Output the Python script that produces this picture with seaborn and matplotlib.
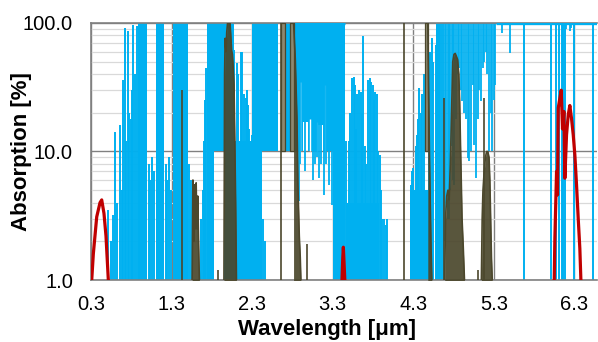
import numpy as np
import pandas as pd
import matplotlib
matplotlib.use("Agg")
import matplotlib.pyplot as plt
import seaborn as sns

sns.set_theme(style="white")
plt.rcParams["font.family"] = ["Liberation Sans", "DejaVu Sans"]
plt.rcParams["text.color"] = "black"
plt.rcParams["axes.labelcolor"] = "black"
plt.rcParams["xtick.color"] = "black"
plt.rcParams["ytick.color"] = "black"

BLUE = "#00b0f0"
BROWN = "#4b472c"
BROWN_L = "#8d8870"
RED = "#c00000"

# ---------------- data ----------------
x_ticks = [0.3, 1.3, 2.3, 3.3, 4.3, 5.3, 6.3]
x_tick_labels = ["0.3", "1.3", "2.3", "3.3", "4.3", "5.3", "6.3"]
y_ticks = [1, 10, 100]
y_tick_labels = ["1.0", "10.0", "100.0"]

# blue (H2O) dense absorption bands: start, end, low, high
blue_band_start = [0.880, 1.110, 1.320, 1.735, 1.830, 1.950, 2.070, 2.300, 2.420, 2.711,
                   2.823, 2.930, 2.990, 3.120, 3.180, 3.300, 3.470, 4.260, 4.580]
blue_band_end   = [1.000, 1.210, 1.500, 1.830, 1.950, 2.070, 2.300, 2.420, 2.620, 2.773,
                   2.930, 2.990, 3.120, 3.180, 3.300, 3.455, 3.880, 4.560, 4.630]
blue_band_low   = [1, 1, 1, 1, 10, 1, 1, 1, 10, 10,
                   10, 17, 10, 16, 10, 1, 1, 1, 1]
blue_band_high  = [100, 100, 100, 100, 100, 100, 12, 100, 100, 100,
                   100, 100, 100, 100, 100, 100, 4, 5, 100]

# thin white gaps inside the 2.8-3.3 um band: wavelength, top of gap
blue_gap_wl = [2.893, 3.017, 3.100, 3.200]
blue_gap_top = [35.0, 18.0, 17.0, 33.0]

# blue lines rising from the bottom: wavelength, peak absorption
blue_up_wl = [0.515, 0.545, 0.570, 0.594, 0.620, 0.656, 0.680, 0.697, 0.718, 0.740, 0.759, 0.775, 0.792, 0.805, 0.825, 0.845, 0.870,
              1.015, 1.035, 1.055, 1.085, 1.225, 1.245, 1.265, 1.290, 1.515, 1.535, 1.555,
              1.665, 1.690, 1.705, 1.715, 1.725,
              2.080, 2.107, 2.130, 2.160, 2.180, 2.195, 2.220, 2.232, 2.245, 2.265, 2.285, 2.300, 2.440, 2.460,
              3.470, 3.501, 3.520, 3.542, 3.563, 3.575, 3.592, 3.604, 3.625, 3.646, 3.660, 3.675, 3.695, 3.716, 3.737,
              3.757, 3.778, 3.799, 3.812, 3.824, 3.844, 3.865, 3.886, 3.900, 3.915, 3.935, 3.956, 3.977,
              4.266, 4.287, 4.300, 4.328, 4.349, 4.360, 4.370, 4.390, 4.410, 4.430, 4.500, 4.510, 4.535, 4.550, 4.576, 4.597, 4.618,
              4.600, 4.642, 4.671, 5.676, 6.003, 6.070, 6.110, 6.140, 6.160, 6.180, 6.297, 6.533]
blue_up_abs = [3.5, 2.0, 3.2, 14.3, 4.0, 16.0, 5.0, 36.0, 91.0, 12.0, 86.0, 20.0, 18.0, 30.0, 96.0, 40.0, 95.0,
               8.0, 6.0, 9.0, 7.0, 8.0, 6.0, 9.0, 5.0, 8.0, 6.0, 5.0,
               3.0, 5.0, 12.0, 25.0, 45.0,
               62.0, 49.0, 40.0, 60.0, 60.0, 28.0, 26.0, 30.0, 23.0, 15.0, 9.0, 13.5, 3.0, 2.0,
               12.0, 12.0, 20.0, 37.0, 38.0, 33.0, 15.0, 28.0, 30.0, 29.0, 20.0, 79.0, 11.0, 8.0, 36.0,
               37.0, 35.0, 33.0, 25.0, 29.0, 28.0, 10.0, 9.4, 5.0, 3.0, 3.0, 2.7, 3.0,
               5.5, 7.0, 7.4, 11.0, 13.5, 18.0, 31.0, 20.0, 28.0, 40.0, 40.0, 60.0, 76.0, 50.0, 68.0, 91.0, 50.0,
               100, 100, 100, 100, 100, 100, 100, 100, 100, 100, 100, 100]

# blue lines hanging from saturation (100 %): wavelength, lowest absorption
blue_down_wl = [2.876, 2.900, 2.960, 3.050, 3.083, 3.105, 3.124, 3.150, 3.187, 3.215, 3.250, 3.290,
                4.690, 4.710, 4.730, 4.745, 4.760, 4.775, 4.790, 4.807, 4.828, 4.850, 4.870, 4.890, 4.910,
                4.930, 4.952, 4.973, 4.994, 5.014, 5.035, 5.056, 5.076, 5.097, 5.120, 5.138, 5.159, 5.180,
                5.200, 5.220, 5.242, 5.260, 5.283, 5.300, 5.316, 5.407, 5.498, 6.200, 6.243, 6.255]
blue_down_abs = [4.1, 8.0, 7.0, 6.0, 8.0, 9.0, 6.2, 8.0, 4.6, 8.0, 5.5, 3.8,
                 2.0, 4.0, 3.0, 3.0, 5.0, 11.0, 6.0, 5.5, 18.0, 40.0, 45.0, 30.0, 24.5,
                 20.0, 18.0, 8.9, 8.4, 10.0, 33.0, 11.3, 6.2, 18.0, 30.0, 24.5, 45.0, 50.0,
                 60.0, 40.0, 10.0, 20.0, 10.0, 25.0, 33.0, 83.0, 58.0, 90.0, 86.0, 92.0]

# ranges where the blue curve sits at 100 %
blue_sat_start = [2.820, 5.330]
blue_sat_end = [3.455, 6.580]

# brown (CO2) curves: group id, wavelength, absorption
brown_group = ["a"] * 10 + ["b"] * 17 + ["c"] * 7 + ["d"] * 6 + ["e"] * 19 + ["f"] * 12
brown_wl = [1.555, 1.565, 1.575, 1.585, 1.595, 1.605, 1.615, 1.625, 1.635, 1.645,
            1.950, 1.958, 1.965, 1.975, 1.985, 1.995, 2.005, 2.015, 2.025, 2.035, 2.045, 2.055, 2.065, 2.075, 2.085, 2.095, 2.105,
            2.814, 2.835, 2.856, 2.868, 2.885, 2.897, 2.905,
            4.480, 4.490, 4.500, 4.510, 4.520, 4.530,
            4.690, 4.700, 4.715, 4.730, 4.745, 4.760, 4.775, 4.790, 4.805, 4.820, 4.835, 4.850, 4.865, 4.875, 4.885, 4.895, 4.905, 4.920, 4.935,
            5.145, 5.155, 5.165, 5.180, 5.195, 5.210, 5.225, 5.240, 5.250, 5.260, 5.270, 5.280]
brown_abs = [1.0, 6.0, 2.0, 5.5, 2.5, 5.7, 2.5, 4.5, 2.0, 1.0,
             1.0, 40.0, 76.0, 60.0, 85.0, 100.0, 100.0, 100.0, 100.0, 80.0, 61.0, 57.0, 45.0, 33.0, 12.0, 4.0, 1.0,
             100.0, 53.0, 18.0, 5.5, 2.2, 1.5, 1.0,
             100.0, 30.0, 10.0, 4.0, 1.8, 1.0,
             1.0, 3.0, 4.5, 5.0, 4.2, 8.0, 20.0, 50.0, 57.0, 58.0, 55.0, 52.0, 40.0, 25.0, 12.0, 6.0, 3.0, 1.8, 1.0,
             1.0, 3.0, 5.0, 7.0, 9.0, 10.0, 10.0, 9.0, 6.0, 3.0, 1.5, 1.0]

# brown saturated columns: start, end, low, high
brown_col_start = [2.657, 2.773, 4.440]
brown_col_end = [2.711, 2.823, 4.480]
brown_col_low = [10, 10, 10]
brown_col_high = [100, 100, 100]

# brown single lines from the bottom
brown_up_wl = [1.425, 1.876, 2.657, 2.980, 4.183, 4.683, 5.097, 5.180]
brown_up_abs = [30.0, 1.2, 100.0, 1.9, 100.0, 26.0, 1.2, 26.0]

# red (O3) curves
red_group = ["a"] * 8 + ["b"] * 5 + ["c"] * 20
red_wl = [0.309, 0.329, 0.371, 0.412, 0.433, 0.461, 0.486, 0.515,
          3.415, 3.425, 3.432, 3.440, 3.450,
          6.049, 6.057, 6.078, 6.090, 6.099, 6.119, 6.136, 6.152, 6.169, 6.181, 6.202, 6.223, 6.243, 6.264, 6.285,
          6.305, 6.326, 6.347, 6.367, 6.380]
red_abs = [1.0, 1.6, 3.1, 4.0, 4.2, 3.3, 2.2, 1.0,
           1.0, 1.5, 1.8, 1.4, 1.0,
           1.0, 2.1, 7.0, 4.6, 21.8, 26.0, 30.0, 15.0, 20.5, 6.2, 13.5, 19.3, 22.8, 18.0, 13.5,
           9.4, 5.5, 3.0, 1.76, 1.0]

# ---------------- figure ----------------
fig = plt.figure(figsize=(5.98, 3.42), dpi=100)
ax = fig.add_axes([91 / 598, 62 / 342, 506 / 598, 257 / 342])
ax.set_yscale("log")
ax.set_xlim(0.3, 6.58)
ax.set_ylim(1, 100)

# grid
ax.set_axisbelow(True)
ax.set_yticks([v * d for d in (1, 10) for v in range(2, 10)], minor=True)
ax.grid(which="minor", axis="y", color="#d9d9d9", lw=0.9)
ax.grid(which="major", axis="y", color="#808080", lw=1.0)
ax.grid(which="major", axis="x", color="#808080", lw=1.0)

# blue
for s, e, lo, hi in zip(blue_band_start, blue_band_end, blue_band_low, blue_band_high):
    ax.fill_between([s, e], [lo, lo], [hi, hi], color=BLUE, lw=0, zorder=2)
ax.vlines(blue_gap_wl, 10, blue_gap_top, color="white", lw=1.0, zorder=2.05)
ax.vlines(blue_up_wl, 0.5, blue_up_abs, color=BLUE, lw=1.4, zorder=2.1)
ax.vlines(blue_down_wl, blue_down_abs, 100, color=BLUE, lw=1.3, zorder=2.1)
ax.hlines([100] * len(blue_sat_start), blue_sat_start, blue_sat_end, color=BLUE, lw=2.4, zorder=3)

# brown
for s, e, lo, hi in zip(brown_col_start, brown_col_end, brown_col_low, brown_col_high):
    ax.fill_between([s, e], [lo, lo], [hi, hi], facecolor=BROWN_L, edgecolor=BROWN, lw=0.9, zorder=3)
brown_df = pd.DataFrame({"g": brown_group, "wl": brown_wl, "abs": brown_abs})
for g, d in brown_df.groupby("g"):
    ax.fill_between(d["wl"], 0.5, d["abs"], color=BROWN, alpha=0.92, lw=0, zorder=3)
sns.lineplot(data=brown_df, x="wl", y="abs", units="g", estimator=None, sort=False,
             color=BROWN, lw=1.2, ax=ax, zorder=3, legend=False)
ax.vlines(brown_up_wl, 0.5, brown_up_abs, color=BROWN, lw=1.2, zorder=3)

# red
red_df = pd.DataFrame({"g": red_group, "wl": red_wl, "abs": red_abs})
sns.lineplot(data=red_df, x="wl", y="abs", units="g", estimator=None, sort=False,
             color=RED, lw=2.3, ax=ax, zorder=4, legend=False)

# axes style
for side in ("left", "bottom", "top"):
    ax.spines[side].set_color("#808080")
    ax.spines[side].set_linewidth(1.2)
ax.spines["right"].set_visible(False)

ax.set_xticks(x_ticks)
ax.set_xticklabels(x_tick_labels)
ax.set_yticks(y_ticks)
ax.set_yticklabels(y_tick_labels)
ax.tick_params(axis="both", which="both", length=0, labelsize=14.5, colors="black")
ax.tick_params(axis="y", pad=13)
ax.tick_params(axis="x", pad=11)

ax.set_xlabel("Wavelength [μm]", fontsize=16, fontweight="bold")
ax.set_ylabel("Absorption [%]", fontsize=16, fontweight="bold")
ax.xaxis.set_label_coords(0.467, -0.15)
ax.yaxis.set_label_coords(-0.117, 0.5)

fig.savefig("out.png", dpi=100)
